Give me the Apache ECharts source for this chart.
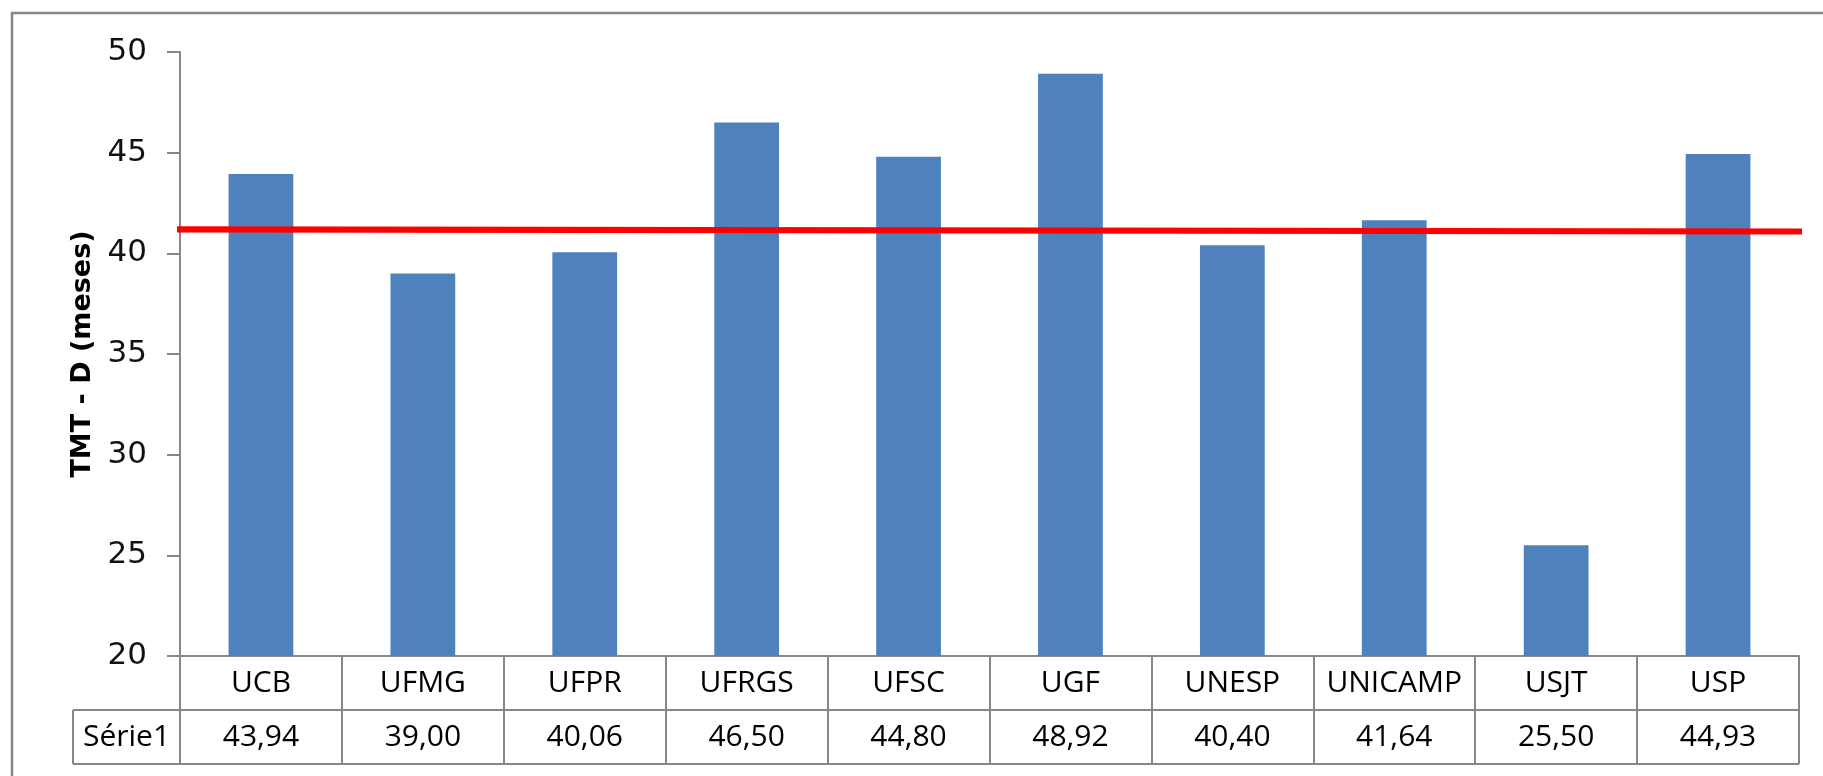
<!DOCTYPE html>
<html>
<head>
<meta charset="utf-8">
<script src="https://cdn.jsdelivr.net/npm/echarts@6/dist/echarts.min.js"></script>
<style>
html,body{margin:0;padding:0;background:#fff;}
#chart{width:1823px;height:776px;}
</style>
</head>
<body>
<div id="chart"></div>
<script>
// ---- data ----
const categories = ['UCB','UFMG','UFPR','UFRGS','UFSC','UGF','UNESP','UNICAMP','USJT','USP'];
const values = [43.94, 39.00, 40.06, 46.50, 44.80, 48.92, 40.40, 41.64, 25.50, 44.93];
const seriesName = 'Série1';
const yTicks = [20, 25, 30, 35, 40, 45, 50];
const yTitle = 'TMT - D (meses)';
// hand-drawn red reference line: [x fraction along axis, value]
const refLine = [[-0.002, 41.19], [1.005, 41.08]];

// ---- layout ----
const GL = 180, GR = 24, GT = 52, GH = 604;
const GB = GT + GH;          // axis line y
const ROW1 = 710, ROW2 = 764; // table row bottoms
const TABLE_LEFT = 73;
const GRAY = '#878787';

const fmt = v => v.toFixed(2).replace('.', ',');

const chart = echarts.init(document.getElementById('chart'));
chart.setOption({
  backgroundColor: '#fff',
  animation: false,
  grid: { left: GL, right: GR, top: GT, height: GH, containLabel: false },
  xAxis: [{
    type: 'category',
    data: categories,
    axisLine: { show: true, lineStyle: { color: GRAY, width: 2 } },
    axisTick: { show: true, interval: 0, length: ROW2 - GB, lineStyle: { color: GRAY, width: 2 } },
    axisLabel: {
      interval: 0,
      margin: 0,
      formatter: (name, idx) => '{c|' + name + '}\n{v|' + fmt(values[idx]) + '}',
      rich: {
        c: { fontFamily: 'Open Sans', fontSize: 30, color: '#000', lineHeight: ROW1 - GB, height: ROW1 - GB, verticalAlign: 'middle' },
        v: { fontFamily: 'Open Sans', fontSize: 30, color: '#000', lineHeight: ROW2 - ROW1, height: ROW2 - ROW1, verticalAlign: 'middle' }
      }
    },
    splitLine: { show: false }
  }, {
    type: 'value',
    min: 0, max: 1,
    show: false
  }],
  yAxis: {
    type: 'value',
    min: yTicks[0], max: yTicks[yTicks.length - 1], interval: 5,
    name: yTitle,
    nameLocation: 'middle',
    nameGap: 83,
    nameTextStyle: { fontFamily: 'DejaVu Sans', fontWeight: 'bold', fontSize: 27, color: '#000' },
    axisLine: { show: true, lineStyle: { color: GRAY, width: 2 } },
    axisTick: { show: true, length: 13, lineStyle: { color: GRAY, width: 2 } },
    axisLabel: { fontFamily: 'DejaVu Sans', fontSize: 31, color: '#111', margin: 33 },
    splitLine: { show: false }
  },
  series: [{
    name: seriesName,
    type: 'bar',
    data: values,
    barWidth: '40%',
    itemStyle: { color: '#4F81BD' }
  }, {
    type: 'line',
    xAxisIndex: 1,
    data: refLine,
    symbol: 'none',
    clip: false,
    lineStyle: { color: '#FF0000', width: 6 },
    z: 5
  }],
  graphic: [
    { type: 'rect', shape: { x: 12, y: 13, width: 2000, height: 1000 }, style: { fill: null, stroke: GRAY, lineWidth: 2.5 }, silent: true },
    { type: 'line', shape: { x1: TABLE_LEFT, y1: ROW1, x2: 1823 - GR, y2: ROW1 }, style: { stroke: GRAY, lineWidth: 2 } },
    { type: 'line', shape: { x1: TABLE_LEFT, y1: ROW2, x2: 1823 - GR, y2: ROW2 }, style: { stroke: GRAY, lineWidth: 2 } },
    { type: 'line', shape: { x1: TABLE_LEFT, y1: ROW1, x2: TABLE_LEFT, y2: ROW2 }, style: { stroke: GRAY, lineWidth: 2 } },
    { type: 'text', x: (TABLE_LEFT + GL) / 2, y: (ROW1 + ROW2) / 2,
      style: { text: seriesName, fontFamily: 'Open Sans', fontSize: 30, fill: '#000', align: 'center', verticalAlign: 'middle' } }
  ]
});
</script>
</body>
</html>
